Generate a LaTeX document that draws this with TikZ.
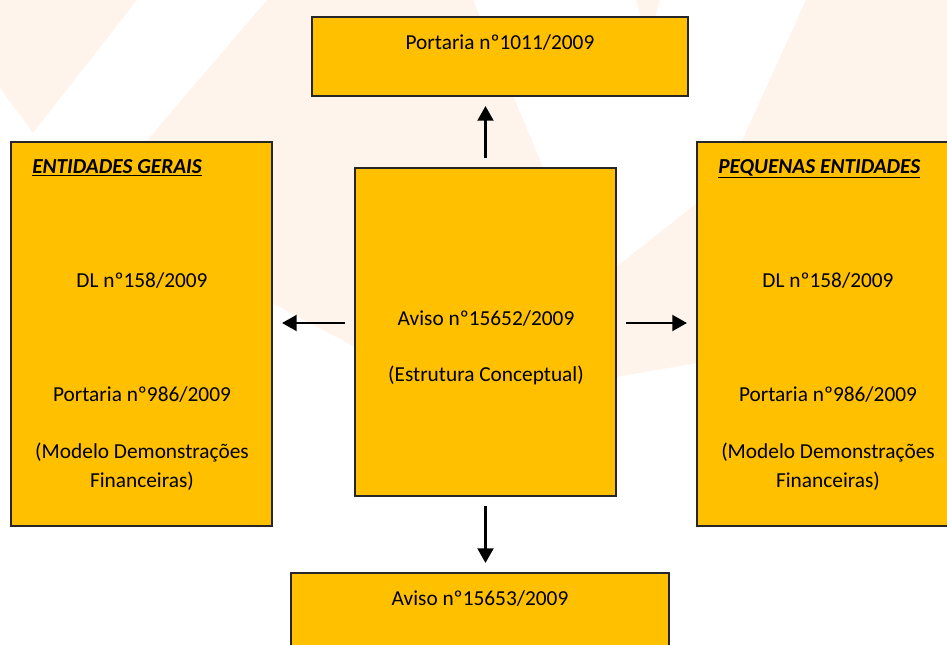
\documentclass[tikz,border=0pt]{standalone}
\usepackage{fontspec}
\setmainfont{Carlito}
\usetikzlibrary{arrows.meta}
\definecolor{gold}{HTML}{FFC000}
\definecolor{peach}{HTML}{FEF4EC}
\tikzset{
    box/.style={draw=black!85, line width=1.1pt, fill=gold, inner sep=0pt},
    txt/.style={anchor=base, inner sep=0pt, font=\fontsize{16}{19}\selectfont},
    head/.style={anchor=base west, inner sep=0pt, font=\fontsize{16}{19}\selectfont\bfseries\itshape},
    arr/.style={-{Triangle[width=12pt,length=11pt]}, line width=1.6pt, shorten <=7pt, shorten >=7pt},
}
\begin{document}
\begin{tikzpicture}[x=0.75pt, y=-0.75pt]
    \useasboundingbox (0,0) rectangle (947,644) ;
    \clip (0,0) rectangle (947,644) ;
    % watermark
    \fill [peach] (0,0) -- (137,0) -- (33,133) -- (0,88) -- cycle ;
    \fill [peach] (267,0) -- (473,0) -- (543,167) -- (585,300) -- (616,267) -- (697,203)
        -- (740,145) -- (806,0) -- (947,0) -- (947,330) .. controls (850,352) .. (697,363)
        -- (616,377) .. controls (470,386) .. (355,347) -- (272,303) -- (180,240) -- (143,145) -- cycle ;
    \fill [peach] (636,0) -- (660,0) -- (648,40) -- cycle ;

    % boxes
    \node [box, minimum width=376*0.75pt, minimum height=79*0.75pt] (top) at (500,56.5) {} ;
    \node [box, minimum width=261*0.75pt, minimum height=328*0.75pt] (ctr) at (485.5,332) {} ;
    \node [box, minimum width=261*0.75pt, minimum height=384*0.75pt] (gen) at (141.5,334) {} ;
    \node [box, minimum width=263*0.75pt, minimum height=384*0.75pt] (peq) at (828.5,334) {} ;
    \node [box, minimum width=378*0.75pt, minimum height=100*0.75pt] (bot) at (480,623) {} ;

    % texts
    \node [txt] (top-t) at (500,49) {Portaria nº1011/2009} ;
    \node [txt] (ctr-t1) at (486,325) {Aviso nº15652/2009} ;
    \node [txt] (ctr-t2) at (486,381) {(Estrutura Conceptual)} ;
    \node [txt] (bot-t) at (480,605) {Aviso nº15653/2009} ;

    \node [head] (gen-h) at (32,173) {\underline{ENTIDADES GERAIS}} ;
    \node [txt] (gen-dl) at (142,287) {DL nº158/2009} ;
    \node [txt] (gen-p) at (142,401) {Portaria nº986/2009} ;
    \node [txt] (gen-m1) at (142,458) {(Modelo Demonstrações} ;
    \node [txt] (gen-m2) at (142,487) {Financeiras)} ;

    \node [head] (peq-h) at (718,173) {\underline{PEQUENAS ENTIDADES}} ;
    \node [txt] (peq-dl) at (828,287) {DL nº158/2009} ;
    \node [txt] (peq-p) at (828,401) {Portaria nº986/2009} ;
    \node [txt] (peq-m1) at (828,458) {(Modelo Demonstrações} ;
    \node [txt] (peq-m2) at (828,487) {Financeiras)} ;

    % arrows
    \draw [arr] (ctr.north) -- (ctr.north |- top.south) ;
    \draw [arr] (ctr.south) -- (ctr.south |- bot.north) ;
    \draw [arr] (ctr.west |- 0,323) -- (gen.east |- 0,323) ;
    \draw [arr] (ctr.east |- 0,323) -- (peq.west |- 0,323) ;
\end{tikzpicture}
\end{document}
